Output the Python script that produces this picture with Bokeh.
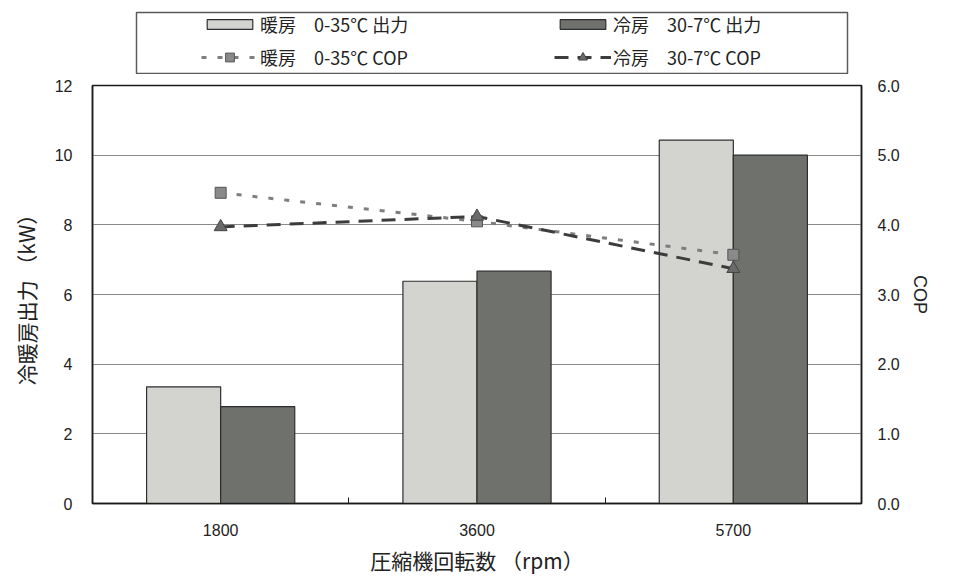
import numpy as np
from bokeh.plotting import figure
from bokeh.layouts import column
from bokeh.models import (Range1d, LinearAxis, FixedTicker, ColumnDataSource,
                          Legend, LegendItem, NumeralTickFormatter, BoxAnnotation)
from bokeh.embed import file_html
from bokeh.resources import INLINE

# ---- data ----
categories = ["1800", "3600", "5700"]
heat_output = [3.35, 6.38, 10.43]   # 暖房 0-35℃ 出力 (kW)
cool_output = [2.78, 6.67, 10.0]    # 冷房 30-7℃ 出力 (kW)
heat_cop = [4.46, 4.05, 3.57]       # 暖房 0-35℃ COP
cool_cop = [3.97, 4.12, 3.37]       # 冷房 30-7℃ COP
kw_ticks = [0, 2, 4, 6, 8, 10, 12]
cop_ticks = [0, 1, 2, 3, 4, 5, 6]
series_labels = ["暖房　0-35℃ 出力", "冷房　30-7℃ 出力", "暖房　0-35℃ COP", "冷房　30-7℃ COP"]

# ---- styles ----
heat_bar = dict(fill_color="#d3d3d0", line_color="#2e2e2e", line_width=1.2)
cool_bar = dict(fill_color="#6f716d", line_color="#2e2e2e", line_width=1.2)
hcop_line = dict(line_color="#7e7e7e", line_width=3, line_dash="5 11")
ccop_line = dict(line_color="#3c3c3c", line_width=3, line_dash="14 9")
hcop_mark = dict(marker="square", size=11, fill_color="#8a8a8a", line_color="#555555")
ccop_mark = dict(marker="triangle", size=13, fill_color="#6a6a6a", line_color="#444444")

tick_font = "Liberation Sans"
jp_font = "Noto Sans CJK JP"
W = 946
ML, MR = 92, 85          # left / right borders around the plot frame
LEG_H = 74               # height of the legend strip

centers = np.arange(len(categories)) + 0.5
bar_w = 0.289
src = ColumnDataSource(dict(
    xh=centers - bar_w / 2, xc=centers + bar_w / 2, x=centers,
    heat=heat_output, cool=cool_output, hcop=heat_cop, ccop=cool_cop))

# ================= main chart =================
p = figure(width=W, height=503, x_range=Range1d(0, len(categories)),
           y_range=Range1d(kw_ticks[0], kw_ticks[-1]),
           output_backend="svg", toolbar_location=None,
           min_border_left=ML, min_border_right=MR, min_border_top=11, min_border_bottom=72)
p.extra_y_ranges = {"cop": Range1d(cop_ticks[0], cop_ticks[-1])}
p.background_fill_color = "white"
p.border_fill_color = "white"
p.outline_line_color = "#1a1a1a"
p.outline_line_width = 1.5

p.xgrid.visible = False
p.ygrid.ticker = FixedTicker(ticks=kw_ticks[1:-1])
p.ygrid.grid_line_color = "#8a8a8a"
p.ygrid.grid_line_width = 1

p.vbar(x="xh", top="heat", width=bar_w, source=src, **heat_bar)
p.vbar(x="xc", top="cool", width=bar_w, source=src, **cool_bar)
p.line(x="x", y="hcop", source=src, y_range_name="cop", **hcop_line)
p.line(x="x", y="ccop", source=src, y_range_name="cop", **ccop_line)
p.scatter(x="x", y="hcop", source=src, y_range_name="cop", **hcop_mark)
p.scatter(x="x", y="ccop", source=src, y_range_name="cop", **ccop_mark)

def style_axis(ax, label, label_font, label_size, label_standoff, tick_standoff):
    ax.axis_label = label
    ax.axis_label_text_font = label_font
    ax.axis_label_text_font_style = "normal"
    ax.axis_label_text_font_size = label_size
    ax.axis_label_text_color = "#222222"
    ax.axis_label_standoff = label_standoff
    ax.major_label_text_font = tick_font
    ax.major_label_text_font_size = "16px"
    ax.major_label_text_color = "#222222"
    ax.major_label_standoff = tick_standoff
    ax.major_tick_in = 0
    ax.major_tick_out = 0
    ax.minor_tick_in = 0
    ax.minor_tick_out = 0
    ax.axis_line_color = "#1a1a1a"
    ax.axis_line_width = 1.5

ya = p.yaxis[0]
ya.ticker = FixedTicker(ticks=kw_ticks)
style_axis(ya, "冷暖房出力 （kW）", jp_font, "21px", 11, 20)

ra = LinearAxis(y_range_name="cop", ticker=FixedTicker(ticks=cop_ticks),
                formatter=NumeralTickFormatter(format="0.0"))
style_axis(ra, "COP", tick_font, "18px", 7, 16)
ra.axis_label_orientation = "vertical"
p.add_layout(ra, "right")

xa = p.xaxis[0]
xa.ticker = FixedTicker(ticks=list(centers), minor_ticks=list(np.arange(1, len(categories))))
xa.major_label_overrides = {float(c): lab for c, lab in zip(centers, categories)}
style_axis(xa, "圧縮機回転数 （rpm）", jp_font, "21px", 6, 20)
xa.minor_tick_in = 6
xa.minor_tick_line_color = "#1a1a1a"

# ================= legend strip (pixel-unit ranges) =================
fw = W - ML - MR
lf = figure(width=W, height=LEG_H, x_range=Range1d(0, fw), y_range=Range1d(0, LEG_H),
            x_axis_type=None, y_axis_type=None,
            output_backend="svg", toolbar_location=None,
            min_border_left=ML, min_border_right=MR,
            min_border_top=0, min_border_bottom=0)
lf.grid.visible = False
lf.outline_line_color = None
lf.background_fill_color = "white"
lf.border_fill_color = "white"
# copy of the series mapped far outside this strip's view: used only as legend swatches
lf.extra_x_ranges = {"hx": Range1d(100, 101)}
lf.extra_y_ranges = {"hy": Range1d(100, 101)}
hid = dict(source=src, x_range_name="hx", y_range_name="hy")
s_heat = lf.vbar(x="xh", top="heat", width=bar_w, **hid, **heat_bar)
s_cool = lf.vbar(x="xc", top="cool", width=bar_w, **hid, **cool_bar)
s_hl = lf.line(x="x", y="hcop", **hid, **hcop_line)
s_hm = lf.scatter(x="x", y="hcop", **hid, **hcop_mark)
s_cl = lf.line(x="x", y="ccop", **hid, **ccop_line)
s_cm = lf.scatter(x="x", y="ccop", **hid, **ccop_mark)

# legend frame box (page px 136..847 wide, 12..73 tall)
lf.add_layout(BoxAnnotation(left=136 - ML, right=847 - ML, top=LEG_H - 12, bottom=LEG_H - 73,
                            fill_alpha=0, fill_color=None,
                            line_color="#5a5a5a", line_width=1.5, line_alpha=1))

def row_legend(items, gh, loc):
    return Legend(items=items, location=loc, orientation="horizontal",
                  glyph_width=57, glyph_height=gh, label_height=20, label_width=165,
                  spacing=129, padding=0, margin=0, label_standoff=2,
                  label_text_font=jp_font, label_text_font_size="18px",
                  label_text_color="#222222", label_text_baseline="middle",
                  border_line_color=None, background_fill_alpha=0)

leg1 = row_legend([LegendItem(label=series_labels[0], renderers=[s_heat]),
                   LegendItem(label=series_labels[1], renderers=[s_cool])], 12, (201 - ML, LEG_H - 37))
leg2 = row_legend([LegendItem(label=series_labels[2], renderers=[s_hl, s_hm]),
                   LegendItem(label=series_labels[3], renderers=[s_cl, s_cm])], 22, (201 - ML, LEG_H - 70))
lf.add_layout(leg1, "center")
lf.add_layout(leg2, "center")

layout = column(lf, p, spacing=0)
open("out.html", "w").write(file_html(layout, INLINE))
